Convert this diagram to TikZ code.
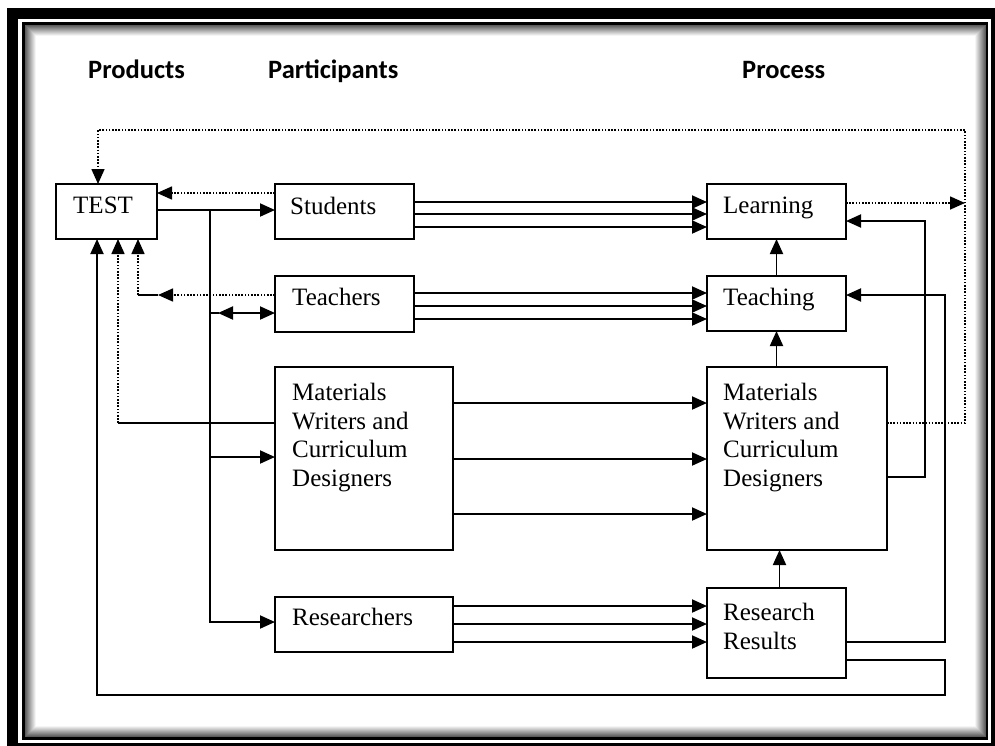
\documentclass[tikz,border=0pt]{standalone}
\usepackage{fontspec}
\setmainfont{Liberation Serif}
\newfontfamily\headfont{Carlito}
\usetikzlibrary{arrows.meta,calc}

\begin{document}
\begin{tikzpicture}[x=1pt,y=-1pt,
  box/.style={draw, line width=1.9pt, anchor=north west, inner sep=0pt, outer sep=0pt},
  lbl/.style={anchor=north west, inner sep=0pt, font=\fontsize{25}{28.5}\selectfont, align=left},
  head/.style={anchor=base west, inner sep=0pt, font=\headfont\bfseries\fontsize{26.5}{30}\selectfont},
  tip/.style={-{Triangle[length=15pt,width=13pt]}},
  link/.style={line width=1.9pt, tip},
  twoway/.style={line width=1.9pt, {Triangle[length=15pt,width=13pt]}-{Triangle[length=15pt,width=13pt]}},
  plain/.style={line width=1.9pt},
  dots/.style={line width=1.6pt, dash pattern=on 1.6pt off 1.6pt},
  dotlink/.style={dots, tip},
]
\useasboundingbox (0,0) rectangle (995,745);

% framed page border with inner shadow
\draw[line width=11pt] (12.5,13) rectangle (996.5,748.5);
\draw[line width=2.5pt] (23.5,23.5) rectangle (987,738.5);
\foreach \i in {1,...,11}{
  \pgfmathsetmacro\g{int(70-6*\i)}
  \draw[black!\g, line width=1pt] (24.5+\i,24.5+\i) rectangle (986-\i,737.5-\i);
}

% column headings
\node[head] (hprod) at (88,78) {Products};
\node[head] (hpart) at (268,78) {Participants};
\node[head] (hproc) at (742,78) {Process};

% boxes
\node[box, minimum width=101pt, minimum height=55pt] (test) at (56,184) {};
\node[box, minimum width=139pt, minimum height=55pt] (students) at (275,184) {};
\node[box, minimum width=139pt, minimum height=56pt] (teachers) at (275,276) {};
\node[box, minimum width=178pt, minimum height=183pt] (matL) at (275,367) {};
\node[box, minimum width=178pt, minimum height=55pt] (resL) at (275,597) {};
\node[box, minimum width=139pt, minimum height=55pt] (learning) at (707,184) {};
\node[box, minimum width=139pt, minimum height=55pt] (teaching) at (707,276) {};
\node[box, minimum width=180pt, minimum height=183pt] (matR) at (707,367) {};
\node[box, minimum width=139pt, minimum height=90pt] (results) at (707,588) {};

% box texts
\node[lbl] (testT) at ($(test.north west)+(17,13)$) {TEST};
\node[lbl] (studentsT) at ($(students.north west)+(15,13)$) {Students};
\node[lbl] (teachersT) at ($(teachers.north west)+(17,12)$) {Teachers};
\node[lbl] (matLT) at ($(matL.north west)+(17,16)$) {Materials\\Writers and\\Curriculum\\Designers};
\node[lbl] (resLT) at ($(resL.north west)+(17,11)$) {Researchers};
\node[lbl] (learningT) at ($(learning.north west)+(16,13)$) {Learning};
\node[lbl] (teachingT) at ($(teaching.north west)+(16,12)$) {Teaching};
\node[lbl] (matRT) at ($(matR.north west)+(16,16)$) {Materials\\Writers and\\Curriculum\\Designers};
\node[lbl] (resultsT) at ($(results.north west)+(16,15)$) {Research\\Results};

% loop corners
\coordinate (loopR) at (965,130);
\coordinate (loopL) at (98,130);
\coordinate (trunk) at (210,210);
\coordinate (base) at (97,695);

% dotted feedback paths
\draw[dotlink] ($(matR.north east)+(0,56)$) -| (loopR) -- (loopL) -- (loopL |- test.north);
\draw[dotlink] ($(learning.north east)+(0,19)$) coordinate (lo) -- (lo -| loopR);
\draw[dotlink] ($(students.north west)+(0,9)$) coordinate (s1) -- (s1 -| test.east);
\draw[dotlink] ($(teachers.north west)+(0,19)$) coordinate (t3) -- ++(-117,0) coordinate (t3a);
\draw[plain] (t3a) -- ++(-20,0) coordinate (t4);
\draw[dotlink] (t4) -- (t4 |- test.south);
\draw[plain] ($(matL.north west)+(0,56)$) -- ++(-157,0) coordinate (m3);
\draw[dotlink] (m3) -- (m3 |- test.south);

% test to participants
\draw[link] (test.east |- trunk) -- (trunk -| students.west);
\draw[link] (trunk) |- ($(resL.north west)+(0,25)$);
\draw[link] ($(matL.north west)+(0,90)$) coordinate (m1) (m1 -| trunk) -- (m1);
\draw[plain] ($(teachers.north west)+(0,37)$) coordinate (t2) (t2 -| trunk) -- ++(9,0);
\draw[twoway] ($(t2 -| trunk)+(8,0)$) -- (t2);

% participants to process
\foreach \d in {18,30,43}
  \draw[link] ($(students.north east)+(0,\d)$) coordinate (q) -- (q -| learning.west);
\foreach \d in {17,30,43}
  \draw[link] ($(teachers.north east)+(0,\d)$) coordinate (q) -- (q -| teaching.west);
\foreach \d in {36,92,147}
  \draw[link] ($(matL.north east)+(0,\d)$) coordinate (q) -- (q -| matR.west);
\foreach \d in {9,27,45}
  \draw[link] ($(resL.north east)+(0,\d)$) coordinate (q) -- (q -| results.west);

% process chain
\draw[link] (teaching.north) -- (teaching.north |- learning.south);
\draw[link] (teaching.south |- matR.north) -- (teaching.south);
\draw[link] ($(results.north)+(3,0)$) coordinate (r0) -- (r0 |- matR.south);

% right-hand return paths
\draw[link] ($(matR.north east)+(0,110)$) -- ++(38,0) |- ($(learning.north east)+(0,37)$);
\draw[link] ($(results.north east)+(0,54)$) -- ++(99,0) |- ($(teaching.north east)+(0,19)$);
\draw[link] ($(results.north east)+(0,72)$) -- ++(99,0) |- (base) -- (base |- test.south);
\end{tikzpicture}
\end{document}
